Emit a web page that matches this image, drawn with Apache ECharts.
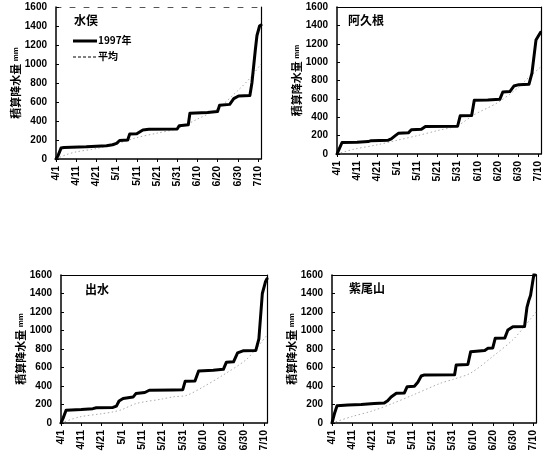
<!DOCTYPE html>
<html><head><meta charset="utf-8">
<script src="https://cdn.jsdelivr.net/npm/echarts@6/dist/echarts.min.js"></script>
<style>html,body{margin:0;padding:0;background:#fff}#c{width:551px;height:459px}</style>
</head><body><div id="c"></div>
<script>
// x = days since 4/1
const tickLabels = ['4/1','4/11','4/21','5/1','5/11','5/21','5/31','6/10','6/20','6/30','7/10'];
const stations = ['水俣','阿久根','出水','紫尾山'];
const legendNames = ['1997年','平均'];

const minamata1997 = [[0,0],[1,35],[2.5,115],[4,122],[15,128],[25,140],[28,150],[30,165],[31.5,195],[35.5,200],[36.5,262],[40,266],[43,305],[46,312],[60,315],[61,350],[65.5,360],[66.3,482],[75,490],[80,500],[81,565],[86,575],[88,635],[90.4,663],[96,668],[97,800],[98.7,1150],[99.5,1300],[100.8,1400],[101.5,1410]];
const minamataAvg = [[0,0],[5,45],[10,75],[20,110],[30,160],[40,225],[50,272],[60,320],[70,420],[80,530],[90,720],[96,850],[101.5,1000]];

const akune1997 = [[0,0],[1,50],[2.5,125],[10,128],[15.5,135],[17,145],[25.5,150],[27,165],[29,200],[30.5,225],[35.5,230],[37,265],[42,270],[44,300],[60,302],[61.3,415],[67,418],[68.3,585],[75,588],[81,595],[82.5,675],[86,680],[88,740],[90.5,755],[95.5,758],[97,880],[99,1240],[101.3,1325],[101.5,1330]];
const akuneAvg = [[0,0],[8,50],[20,100],[30,150],[40,200],[50,255],[60,310],[68,425],[80,560],[90,720],[94,805],[101.5,950]];

const izumi1997 = [[0,0],[1,50],[2.5,138],[10,145],[15.7,155],[17.4,165],[25.6,168],[27.3,182],[28.6,238],[30.6,264],[35.5,280],[36.9,318],[41.3,330],[43.5,354],[55,358],[60,360],[61.2,452],[66,455],[67.8,563],[75,570],[80,580],[81.5,658],[85,662],[87,758],[90,782],[96,785],[97.5,910],[99.2,1400],[100.8,1530],[101.5,1560]];
const izumiAvg = [[0,0],[9,65],[20,100],[25.6,120],[30,145],[37,210],[50,260],[55,282],[62,300],[70,390],[80,520],[91,680],[96,800],[101.5,950]];

const shibisan1997 = [[0,0],[1.2,100],[2.5,187],[8,195],[14.5,200],[21,210],[26,215],[27.7,240],[29.4,281],[32,321],[36,325],[37.4,393],[41,397],[42.7,440],[44.4,508],[46,520],[61,522],[61.8,627],[67.6,632],[69,771],[76,785],[77.6,808],[80,812],[81.2,915],[86,920],[87.5,1005],[90,1040],[95.8,1042],[97,1250],[98,1330],[98.8,1380],[100,1546],[100.5,1610],[101.2,1600]];
const shibisanAvg = [[0,0],[10,70],[20,130],[30,210],[40,300],[54,430],[60,470],[69,540],[80,720],[90,900],[96,1050],[101.5,1200]];

const data1997 = [minamata1997, akune1997, izumi1997, shibisan1997];
const dataAvg = [minamataAvg, akuneAvg, izumiAvg, shibisanAvg];

const grids = [
  {left:56, top:7, width:205, height:152},
  {left:337, top:7, width:204, height:147},
  {left:61, top:275, width:206, height:148},
  {left:332, top:275, width:204, height:148}
];
const numFont = {fontFamily:'Liberation Sans', fontWeight:'bold', fontSize:10, color:'#000'};
const jpFont = 'Noto Sans CJK JP';
const avgStyle = {color:'#aaaaaa', width:1, type:[1.5,2.5]};

const xAxis = [], yAxis = [], series = [], title = [];
grids.forEach((g, i) => {
  xAxis.push({gridIndex:i, type:'value', min:0, max:101.5, interval:10,
    axisLine:{show:true, lineStyle:{color:'#000', width:1.5}},
    axisTick:{show:true, inside:false, length:3, lineStyle:{color:'#000'}},
    splitLine:{show:false},
    axisLabel:{...numFont, fontSize:10.5, rotate:90, margin:7, showMaxLabel:false,
      formatter: v => { const k = Math.round(v/10); return Math.abs(v - k*10) < 1e-6 ? (tickLabels[k] || '') : ''; }}
  });
  xAxis.push({gridIndex:i, type:'value', position:'top', min:0, max:101.5,
    axisLine:{show:true, onZero:false, lineStyle:{color: i===0 ? '#555' : '#000', width:1, type: i===0 ? [5,9] : 'solid'}},
    axisTick:{show:false}, axisLabel:{show:false}, splitLine:{show:false}});
  yAxis.push({gridIndex:i, type:'value', min:0, max:1600, interval:200,
    name:'積算降水量 {s|mm}', nameLocation:'middle', nameRotate:90, nameGap:31,
    nameTextStyle:{fontFamily:jpFont, fontWeight:'bold', fontSize:11, color:'#000',
      rich:{s:{fontFamily:'Liberation Sans', fontSize:8, fontWeight:'bold', color:'#000'}}},
    axisLine:{show:true, lineStyle:{color:'#000', width:1.5}},
    axisTick:{show:true, inside:true, length:3, lineStyle:{color:'#000'}},
    splitLine:{show:false},
    axisLabel:{...numFont, margin:9, formatter: v => String(v)}
  });
  yAxis.push({gridIndex:i, type:'value', position:'right', min:0, max:1600,
    axisLine:{show:true, onZero:false, lineStyle:{color:'#000', width:1.2}},
    axisTick:{show:false}, axisLabel:{show:false}, splitLine:{show:false}});

  series.push({name:legendNames[1], type:'line', xAxisIndex:2*i, yAxisIndex:2*i, data:dataAvg[i],
    symbol:'none', smooth:0.3, z:2, lineStyle:avgStyle, itemStyle:{color:'#aaaaaa'}});
  series.push({name:legendNames[0], type:'line', xAxisIndex:2*i, yAxisIndex:2*i, data:data1997[i],
    symbol:'none', z:3, lineStyle:{color:'#000', width:3, join:'round', cap:'round'}, itemStyle:{color:'#000'}});
});

const titlePos = [[74,14],[348,14],[85,283],[349,282]];
stations.forEach((s, i) => {
  title.push({text:s, left:titlePos[i][0], top:titlePos[i][1], padding:0,
    textStyle:{fontFamily:jpFont, fontWeight:'bold', fontSize:12, color:'#000'}});
});

// hand-drawn legend (inside the first panel)
const graphic = [
  {type:'line', shape:{x1:73, y1:41, x2:97, y2:41}, style:{stroke:'#000', lineWidth:3}},
  {type:'text', left:98, top:35, style:{text:legendNames[0], font:'bold 10px "Noto Sans CJK JP"', fill:'#000'}},
  {type:'line', shape:{x1:73, y1:57, x2:97, y2:57}, style:{stroke:'#000', lineWidth:1, lineDash:[3,2]}},
  {type:'text', left:98, top:51, style:{text:legendNames[1], font:'bold 10px "Noto Sans CJK JP"', fill:'#000'}}
];

const chart = echarts.init(document.getElementById('c'), null, {renderer:'canvas'});
chart.setOption({
  animation:false,
  backgroundColor:'#fff',
  title, graphic,
  grid: grids,
  xAxis, yAxis, series
});
</script></body></html>
